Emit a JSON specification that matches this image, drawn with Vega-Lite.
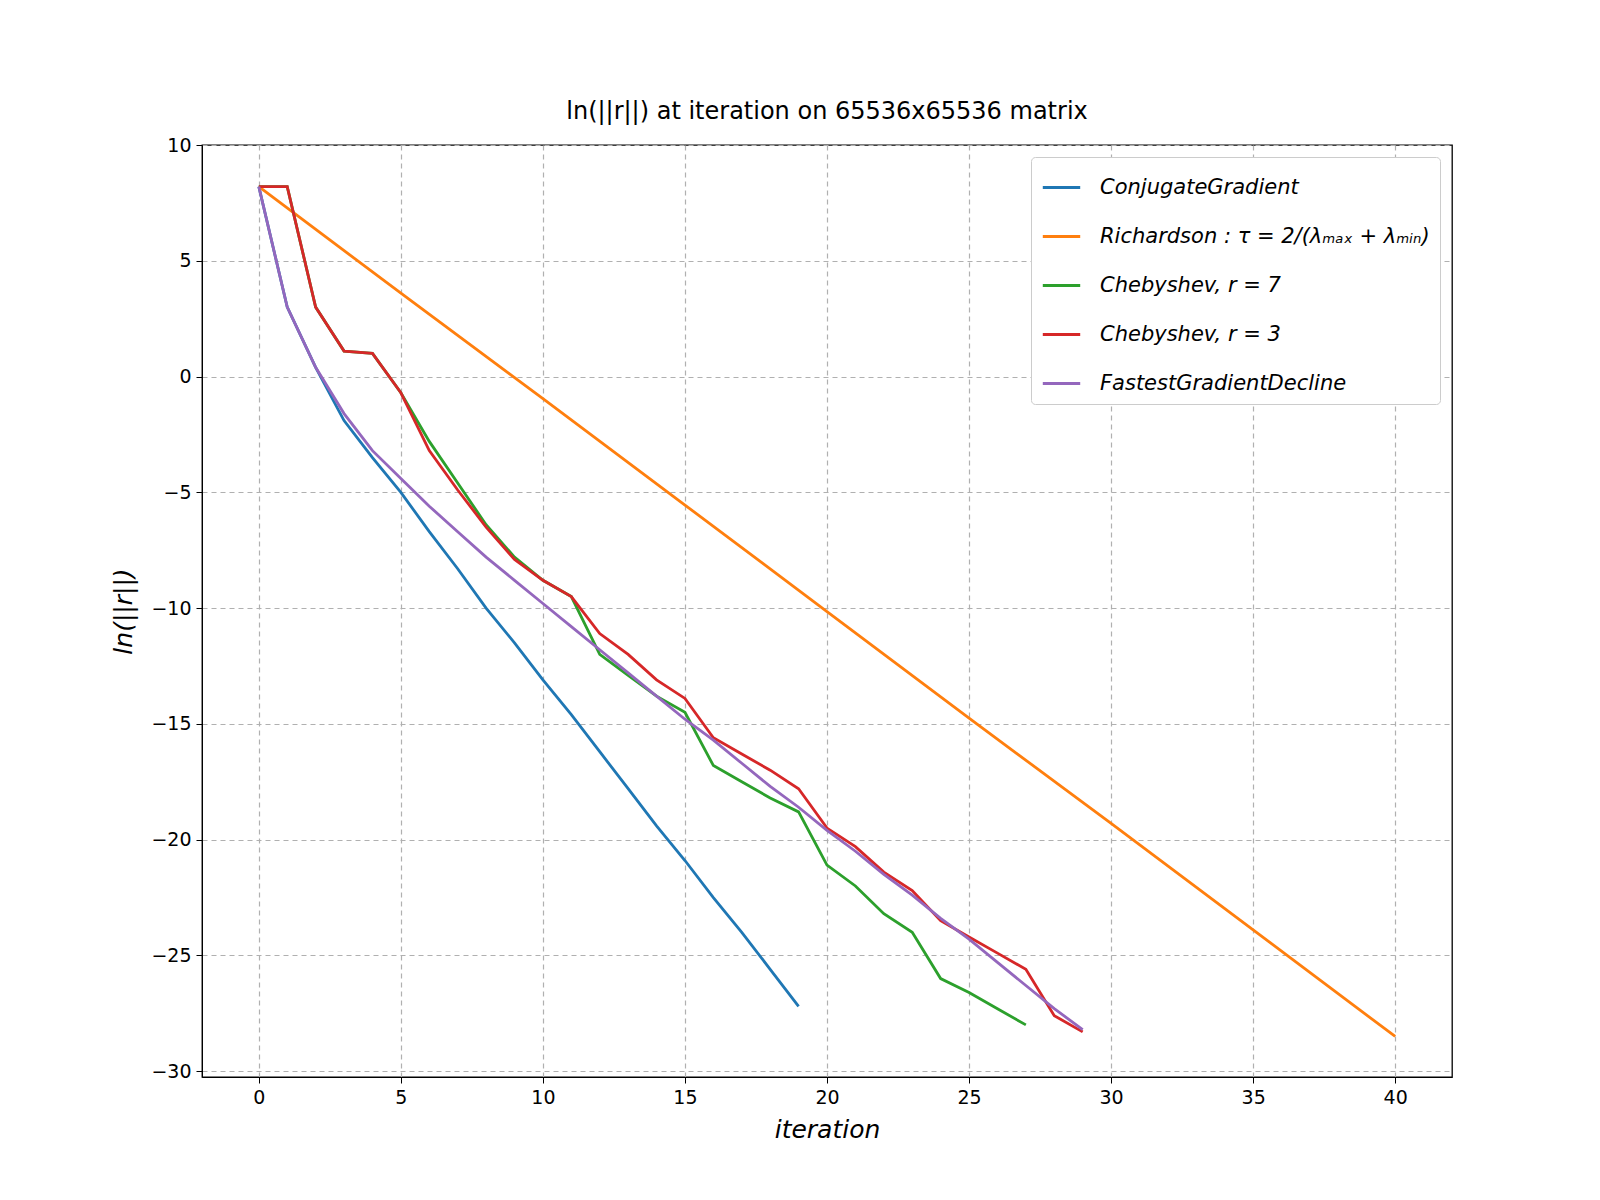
{
  "$schema": "https://vega.github.io/schema/vega-lite/v6.json",
  "width": 1250,
  "height": 932,
  "autosize": {"type": "none"},
  "padding": {"left": 202, "top": 145, "right": 148, "bottom": 123},
  "background": "white",
  "title": {"text": "ln(||r||) at iteration on 65536x65536 matrix", "fontSize": 24, "fontWeight": "normal", "font": "DejaVu Sans", "offset": 12},
  "config": {
    "font": "DejaVu Sans",
    "view": {"stroke": "black", "strokeWidth": 1.3},
    "axis": {"labelFontSize": 19, "labelColor": "black", "titleFontSize": 25, "titleFontWeight": "normal", "titleFontStyle": "italic", "titleColor": "black", "domainColor": "black", "tickColor": "black", "tickSize": 6, "gridColor": "#b0b0b0", "gridDash": [5, 4], "gridWidth": 1.2, "labelPadding": 5}
  },
  "datasets": {
    "runs": [
      {"m": "CG", "i": 0, "v": 8.2}, {"m": "CG", "i": 1, "v": 3.0}, {"m": "CG", "i": 2, "v": 0.4}, {"m": "CG", "i": 3, "v": -1.9}, {"m": "CG", "i": 4, "v": -3.5}, {"m": "CG", "i": 5, "v": -5.0}, {"m": "CG", "i": 6, "v": -6.7}, {"m": "CG", "i": 7, "v": -8.3}, {"m": "CG", "i": 8, "v": -10.0}, {"m": "CG", "i": 9, "v": -11.5}, {"m": "CG", "i": 10, "v": -13.1}, {"m": "CG", "i": 11, "v": -14.6}, {"m": "CG", "i": 12, "v": -16.2}, {"m": "CG", "i": 13, "v": -17.8}, {"m": "CG", "i": 14, "v": -19.4}, {"m": "CG", "i": 15, "v": -20.9}, {"m": "CG", "i": 16, "v": -22.5}, {"m": "CG", "i": 17, "v": -24.0}, {"m": "CG", "i": 18, "v": -25.6}, {"m": "CG", "i": 19, "v": -27.2},
      {"m": "R", "i": 0, "v": 8.2}, {"m": "R", "i": 5, "v": 3.6}, {"m": "R", "i": 10, "v": -0.95}, {"m": "R", "i": 15, "v": -5.55}, {"m": "R", "i": 20, "v": -10.15}, {"m": "R", "i": 25, "v": -14.75}, {"m": "R", "i": 30, "v": -19.3}, {"m": "R", "i": 35, "v": -23.9}, {"m": "R", "i": 40, "v": -28.5},
      {"m": "C7", "i": 0, "v": 8.2}, {"m": "C7", "i": 1, "v": 8.2}, {"m": "C7", "i": 2, "v": 3.0}, {"m": "C7", "i": 3, "v": 1.1}, {"m": "C7", "i": 4, "v": 1.0}, {"m": "C7", "i": 5, "v": -0.7}, {"m": "C7", "i": 6, "v": -2.8}, {"m": "C7", "i": 7, "v": -4.6}, {"m": "C7", "i": 8, "v": -6.4}, {"m": "C7", "i": 9, "v": -7.8}, {"m": "C7", "i": 10, "v": -8.8}, {"m": "C7", "i": 11, "v": -9.5}, {"m": "C7", "i": 12, "v": -12.0}, {"m": "C7", "i": 13, "v": -12.9}, {"m": "C7", "i": 14, "v": -13.8}, {"m": "C7", "i": 15, "v": -14.5}, {"m": "C7", "i": 16, "v": -16.8}, {"m": "C7", "i": 17, "v": -17.5}, {"m": "C7", "i": 18, "v": -18.2}, {"m": "C7", "i": 19, "v": -18.8}, {"m": "C7", "i": 20, "v": -21.1}, {"m": "C7", "i": 21, "v": -22.0}, {"m": "C7", "i": 22, "v": -23.2}, {"m": "C7", "i": 23, "v": -24.0}, {"m": "C7", "i": 24, "v": -26.0}, {"m": "C7", "i": 25, "v": -26.6}, {"m": "C7", "i": 26, "v": -27.3}, {"m": "C7", "i": 27, "v": -28.0},
      {"m": "C3", "i": 0, "v": 8.2}, {"m": "C3", "i": 1, "v": 8.2}, {"m": "C3", "i": 2, "v": 3.0}, {"m": "C3", "i": 3, "v": 1.1}, {"m": "C3", "i": 4, "v": 1.0}, {"m": "C3", "i": 5, "v": -0.7}, {"m": "C3", "i": 6, "v": -3.2}, {"m": "C3", "i": 7, "v": -4.9}, {"m": "C3", "i": 8, "v": -6.5}, {"m": "C3", "i": 9, "v": -7.9}, {"m": "C3", "i": 10, "v": -8.8}, {"m": "C3", "i": 11, "v": -9.5}, {"m": "C3", "i": 12, "v": -11.1}, {"m": "C3", "i": 13, "v": -12.0}, {"m": "C3", "i": 14, "v": -13.1}, {"m": "C3", "i": 15, "v": -13.9}, {"m": "C3", "i": 16, "v": -15.6}, {"m": "C3", "i": 17, "v": -16.3}, {"m": "C3", "i": 18, "v": -17.0}, {"m": "C3", "i": 19, "v": -17.8}, {"m": "C3", "i": 20, "v": -19.5}, {"m": "C3", "i": 21, "v": -20.3}, {"m": "C3", "i": 22, "v": -21.4}, {"m": "C3", "i": 23, "v": -22.2}, {"m": "C3", "i": 24, "v": -23.5}, {"m": "C3", "i": 25, "v": -24.2}, {"m": "C3", "i": 26, "v": -24.9}, {"m": "C3", "i": 27, "v": -25.6}, {"m": "C3", "i": 28, "v": -27.6}, {"m": "C3", "i": 29, "v": -28.3},
      {"m": "FG", "i": 0, "v": 8.2}, {"m": "FG", "i": 1, "v": 3.0}, {"m": "FG", "i": 2, "v": 0.4}, {"m": "FG", "i": 3, "v": -1.6}, {"m": "FG", "i": 4, "v": -3.2}, {"m": "FG", "i": 5, "v": -4.4}, {"m": "FG", "i": 6, "v": -5.6}, {"m": "FG", "i": 7, "v": -6.7}, {"m": "FG", "i": 8, "v": -7.8}, {"m": "FG", "i": 9, "v": -8.8}, {"m": "FG", "i": 10, "v": -9.8}, {"m": "FG", "i": 11, "v": -10.8}, {"m": "FG", "i": 12, "v": -11.8}, {"m": "FG", "i": 13, "v": -12.8}, {"m": "FG", "i": 14, "v": -13.8}, {"m": "FG", "i": 15, "v": -14.8}, {"m": "FG", "i": 16, "v": -15.7}, {"m": "FG", "i": 17, "v": -16.7}, {"m": "FG", "i": 18, "v": -17.7}, {"m": "FG", "i": 19, "v": -18.6}, {"m": "FG", "i": 20, "v": -19.6}, {"m": "FG", "i": 21, "v": -20.5}, {"m": "FG", "i": 22, "v": -21.5}, {"m": "FG", "i": 23, "v": -22.4}, {"m": "FG", "i": 24, "v": -23.4}, {"m": "FG", "i": 25, "v": -24.3}, {"m": "FG", "i": 26, "v": -25.3}, {"m": "FG", "i": 27, "v": -26.3}, {"m": "FG", "i": 28, "v": -27.3}, {"m": "FG", "i": 29, "v": -28.2}
    ]
  },
  "data": {"name": "runs"},
  "mark": {"type": "line", "strokeWidth": 2.8},
  "encoding": {
    "x": {"field": "i", "type": "quantitative", "title": "iteration", "scale": {"domain": [-2, 42], "nice": false, "zero": false}, "axis": {"values": [0, 5, 10, 15, 20, 25, 30, 35, 40], "titlePadding": 10}},
    "y": {"field": "v", "type": "quantitative", "title": "ln(||r||)", "scale": {"domain": [-30.25, 10], "nice": false, "zero": false}, "axis": {"values": [10, 5, 0, -5, -10, -15, -20, -25, -30], "labelExpr": "replace(datum.label, '-', '−')", "titlePadding": 14}},
    "color": {
      "field": "m", "type": "nominal",
      "scale": {"domain": ["CG", "R", "C7", "C3", "FG"], "range": ["#1f77b4", "#ff7f0e", "#2ca02c", "#d62728", "#9467bd"]},
      "legend": {
        "title": null, "orient": "top-right", "offset": 12, "fillColor": "white", "strokeColor": "#cccccc", "cornerRadius": 4, "padding": 10,
        "symbolType": "stroke", "symbolSize": 1400, "symbolStrokeWidth": 2.8, "labelFontSize": 21, "labelFontStyle": "italic", "labelColor": "black", "labelLimit": 0, "rowPadding": 18, "labelOffset": 18,
        "labelExpr": "{'CG': 'ConjugateGradient', 'R': 'Richardson : τ = 2/(λₘₐₓ + λₘᵢₙ)', 'C7': 'Chebyshev, r = 7', 'C3': 'Chebyshev, r = 3', 'FG': 'FastestGradientDecline'}[datum.value]"
      }
    }
  }
}
